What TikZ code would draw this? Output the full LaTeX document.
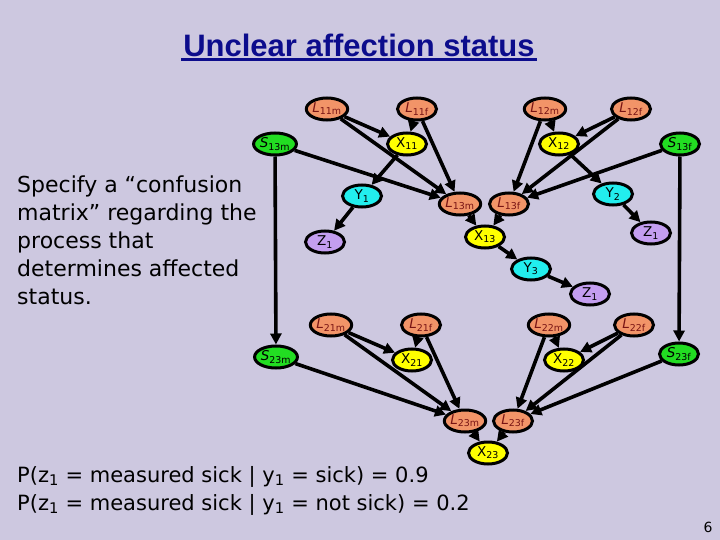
\documentclass[tikz,border=0pt]{standalone}
\usepackage{fontspec}
\setmainfont{DejaVu Sans}
\newfontfamily\titlefont{Liberation Sans}
\usetikzlibrary{arrows.meta,shapes.geometric,calc}
\definecolor{slidebg}{RGB}{205,200,224}
\definecolor{lorange}{RGB}{242,148,104}
\definecolor{sgreen}{RGB}{34,221,34}
\definecolor{xyellow}{RGB}{255,255,0}
\definecolor{ycyan}{RGB}{34,238,238}
\definecolor{zpurple}{RGB}{196,158,240}
\definecolor{ltext}{RGB}{120,20,20}
\definecolor{titleblue}{RGB}{12,12,140}

\begin{document}
\begin{tikzpicture}[x=1pt, y=-1pt,
  vnode/.style={ellipse, draw=black, line width=3pt, minimum width=39pt,
    minimum height=22pt, inner sep=0pt, font=\fontsize{13.5}{14}\selectfont},
  lnode/.style={vnode, fill=lorange, text=ltext},
  snode/.style={vnode, fill=sgreen},
  xnode/.style={vnode, fill=xyellow},
  ynode/.style={vnode, fill=ycyan},
  znode/.style={vnode, fill=zpurple},
  arr/.style={line width=3.6pt, -{Triangle[length=11pt,width=11pt]}}]
  \fill[slidebg] (0,0) rectangle (720,540);

  % title
  \node[font=\titlefont\bfseries\fontsize{31}{34}\selectfont, text=titleblue, inner sep=2pt] (title) at (359,45) {Unclear affection status};
  \draw[titleblue, line width=2.5pt] ($(title.south west)+(0,1)$) -- ($(title.south east)+(0,1)$);

  % generation 1, left family
  \node[lnode] (l11m) at (327,109) {\textit{L}\textsubscript{11m}};
  \node[lnode] (l11f) at (417,109) {\textit{L}\textsubscript{11f}};
  \node[snode] (s13m) at (275,144) {\textit{S}\textsubscript{13m}};
  \node[xnode] (x11)  at (407,144) {X\textsubscript{11}};
  \node[ynode] (y1)   at (362,196) {Y\textsubscript{1}};
  \node[znode] (z1a)  at (325,242) {Z\textsubscript{1}};

  % generation 1, right family
  \node[lnode] (l12m) at (545,109) {\textit{L}\textsubscript{12m}};
  \node[lnode] (l12f) at (631,109) {\textit{L}\textsubscript{12f}};
  \node[snode] (s13f) at (680,144) {\textit{S}\textsubscript{13f}};
  \node[xnode] (x12)  at (559,144) {X\textsubscript{12}};
  \node[ynode] (y2)   at (613,194) {Y\textsubscript{2}};
  \node[znode] (z1b)  at (651,233) {Z\textsubscript{1}};

  % child
  \node[lnode] (l13m) at (460,204) {\textit{L}\textsubscript{13m}};
  \node[lnode] (l13f) at (509,204) {\textit{L}\textsubscript{13f}};
  \node[xnode] (x13)  at (485,237) {X\textsubscript{13}};
  \node[ynode] (y3)   at (531,269) {Y\textsubscript{3}};
  \node[znode] (z1c)  at (590,294) {Z\textsubscript{1}};

  % generation 2
  \node[lnode] (l21m) at (331,325) {\textit{L}\textsubscript{21m}};
  \node[lnode] (l21f) at (421,325) {\textit{L}\textsubscript{21f}};
  \node[lnode] (l22m) at (549,325) {\textit{L}\textsubscript{22m}};
  \node[lnode] (l22f) at (634,325) {\textit{L}\textsubscript{22f}};
  \node[snode] (s23m) at (276,357) {\textit{S}\textsubscript{23m}};
  \node[xnode] (x21)  at (412,360) {X\textsubscript{21}};
  \node[xnode] (x22)  at (564,360) {X\textsubscript{22}};
  \node[snode] (s23f) at (679,354) {\textit{S}\textsubscript{23f}};
  \node[lnode] (l23m) at (465,421) {\textit{L}\textsubscript{23m}};
  \node[lnode] (l23f) at (513,421) {\textit{L}\textsubscript{23f}};
  \node[xnode] (x23)  at (488,453) {X\textsubscript{23}};

  % connectors
  \foreach \a/\b in {l11m/x11, l11f/x11, l11m/l13m, l11f/l13m, s13m/l13m,
      x11/y1, y1/z1a, l12m/x12, l12f/x12, l12m/l13f, l12f/l13f, s13f/l13f,
      x12/y2, y2/z1b, l13m/x13, l13f/x13, x13/y3, y3/z1c,
      s13m/s23m, s13f/s23f,
      l21m/x21, l21f/x21, l21m/l23m, l21f/l23m, s23m/l23m,
      l22m/x22, l22f/x22, l22m/l23f, l22f/l23f, s23f/l23f,
      l23m/x23, l23f/x23}
    \draw[arr] (\a) -- (\b);

  % texts
  \node[anchor=north west, align=left, inner sep=0pt,
    font=\fontsize{22}{28}\selectfont] (note) at (17,176)
    {Specify a “confusion\\matrix” regarding the\\process that\\determines affected\\status.};
  \node[anchor=north west, align=left, inner sep=0pt,
    font=\fontsize{21}{28}\selectfont] (probs) at (17,466)
    {P(z\textsubscript{1} = measured sick | y\textsubscript{1} = sick) = 0.9\\
     P(z\textsubscript{1} = measured sick | y\textsubscript{1} = not sick) = 0.2};
  \node[font=\fontsize{14}{15}\selectfont] (page) at (708,527) {6};
\end{tikzpicture}
\end{document}
